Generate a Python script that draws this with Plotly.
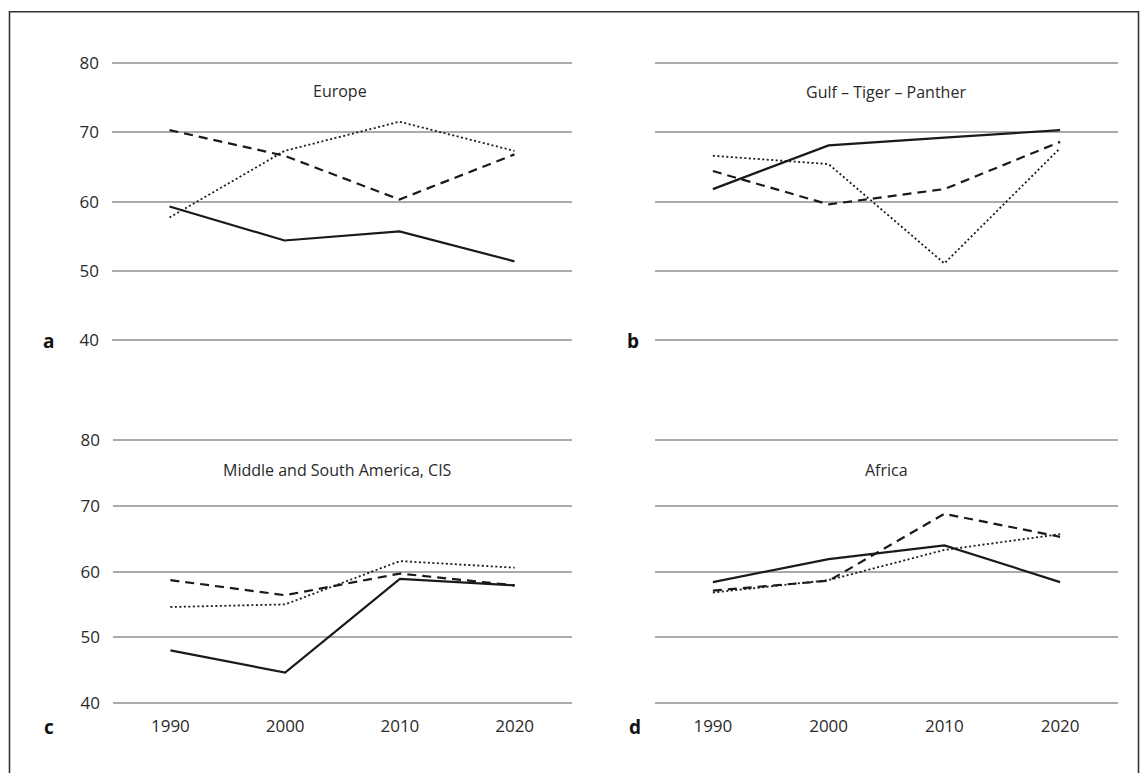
import plotly.graph_objects as go

years = ["1990", "2000", "2010", "2020"]
y_ticks = [40, 50, 60, 70, 80]

panel_titles = ["Europe", "Gulf – Tiger – Panther", "Middle and South America, CIS", "Africa"]
panel_letters = ["a", "b", "c", "d"]

europe_solid = [59.3, 54.4, 55.7, 51.4]
europe_dashed = [70.3, 66.6, 60.3, 66.8]
europe_dotted = [57.7, 67.3, 71.5, 67.3]

gulf_solid = [61.8, 68.1, 69.2, 70.3]
gulf_dashed = [64.4, 59.6, 61.8, 68.6]
gulf_dotted = [66.6, 65.4, 51.1, 67.7]

msa_solid = [48.0, 44.6, 58.9, 57.9]
msa_dashed = [58.7, 56.4, 59.7, 57.9]
msa_dotted = [54.6, 55.0, 61.6, 60.6]

africa_solid = [58.4, 61.9, 64.0, 58.4]
africa_dashed = [57.1, 58.6, 68.8, 65.3]
africa_dotted = [56.8, 58.7, 63.3, 65.7]

W, H = 1144, 773
FONT = "Open Sans"
TXT = "#2a2a2a"


def wy(y):
    # vertical correction measured from the rendered screenshots
    return (y - 9.9) / 0.9746


def px(x):
    return x / W


def py(y):
    return 1 - wy(y) / H


panels = [
    (europe_solid, europe_dashed, europe_dotted),
    (gulf_solid, gulf_dashed, gulf_dotted),
    (msa_solid, msa_dashed, msa_dotted),
    (africa_solid, africa_dashed, africa_dotted),
]

# target pixel layout of each panel: (x_left, x_right, y at 80, y at 40)
geo = [
    (112, 572, 61.7, 340.0),
    (655, 1118, 61.7, 340.0),
    (113, 572, 440.0, 703.0),
    (655, 1118, 440.0, 703.0),
]
R0, R1 = 39.8, 80.2

fig = go.Figure()
layout = {}
styles = [
    dict(color="#1a1a1a", width=2.2, dash="solid"),
    dict(color="#1a1a1a", width=2.2, dash="9px,6px"),
    dict(color="#1a1a1a", width=1.8, dash="2px,2.5px"),
]
for i, (series, (xl, xr, yt, yb)) in enumerate(zip(panels, geo)):
    n = "" if i == 0 else str(i + 1)
    ppu = (yb - yt) / 40.0
    top = yt - (R1 - 80) * ppu
    bot = yb + (40 - R0) * ppu
    for s, st in zip(series, styles):
        fig.add_trace(go.Scatter(x=years, y=s, mode="lines", line=st,
                                 xaxis="x" + n, yaxis="y" + n, showlegend=False,
                                 hoverinfo="skip"))
    layout["xaxis" + n] = dict(
        domain=[px(xl), px(xr)], anchor="y" + n, type="category",
        range=[-0.5, 3.5], showgrid=False, zeroline=False, showline=False,
        showticklabels=(i >= 2), ticks="", ticklabelstandoff=10,
        tickfont=dict(family=FONT, size=17, color=TXT),
    )
    layout["yaxis" + n] = dict(
        domain=[py(bot), py(top)], anchor="x" + n,
        range=[R0, R1], tickvals=y_ticks, showgrid=True, gridcolor="#ababab",
        gridwidth=1.5, zeroline=False, showline=False,
        showticklabels=(i % 2 == 0), ticks="", ticklabelstandoff=12,
        tickfont=dict(family=FONT, size=17, color=TXT),
    )

annotations = []
title_pos = [(340, 90), (886, 91), (337, 470), (886, 470)]
for t, (tx, ty) in zip(panel_titles, title_pos):
    annotations.append(dict(text=t, x=px(tx), y=py(ty), xref="paper", yref="paper",
                            xanchor="center", yanchor="middle", showarrow=False,
                            font=dict(family=FONT, size=16, color=TXT)))
letter_pos = [(48, 340), (633, 340), (49, 727), (635, 727)]
for t, (tx, ty) in zip(panel_letters, letter_pos):
    annotations.append(dict(text="<b>" + t + "</b>", x=px(tx), y=py(ty),
                            xref="paper", yref="paper", xanchor="center", yanchor="middle",
                            showarrow=False, font=dict(family=FONT, size=19, color="#111111")))

fig.update_layout(
    width=W, height=H, margin=dict(l=0, r=0, t=0, b=0),
    paper_bgcolor="white", plot_bgcolor="white",
    annotations=annotations,
    shapes=[dict(type="rect", xref="paper", yref="paper",
                 x0=px(9.5), x1=px(1138.5), y0=-0.05, y1=0.999,
                 line=dict(color="#333333", width=1.6), fillcolor="rgba(0,0,0,0)", layer="below")],
    **layout,
)
fig.write_html("out.html", config={"displayModeBar": False},
               post_script="document.body.style.margin='0px';")
